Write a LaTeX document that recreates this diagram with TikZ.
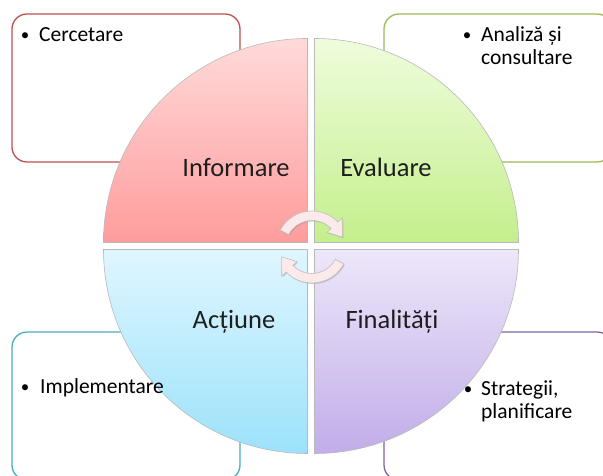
\documentclass[tikz,border=0pt]{standalone}
\usepackage{fontspec}
\setmainfont{Carlito}
\usetikzlibrary{shadows}

% outline colours of the four note panels
\definecolor{edgeRed}{HTML}{C0504D}
\definecolor{edgeGreen}{HTML}{9BBB59}
\definecolor{edgeBlue}{HTML}{4BACC6}
\definecolor{edgePurple}{HTML}{8064A2}
% gradient ends of the four pie quarters
\definecolor{pinkTop}{HTML}{FFDADA}
\definecolor{pinkBot}{HTML}{FF9C9C}
\definecolor{greenTop}{HTML}{EFFCDD}
\definecolor{greenBot}{HTML}{C4EF8C}
\definecolor{blueTop}{HTML}{DFF6FF}
\definecolor{blueBot}{HTML}{9CE2FA}
\definecolor{purpleTop}{HTML}{EDE7FA}
\definecolor{purpleBot}{HTML}{C1ADE8}
\definecolor{cycleFill}{HTML}{FCE9E9}
\definecolor{labelInk}{HTML}{1E1E1E}

\begin{document}
\begin{tikzpicture}[x=1pt,y=1pt,
  panel/.style={draw=#1, line width=1.3pt, fill=white, rounded corners=15pt,
                minimum width=228pt, minimum height=148pt, inner sep=0pt},
  itemtext/.style={font=\fontsize{21.5}{23}\selectfont, anchor=base west,
                   align=left, inner sep=0pt},
  bulletdot/.style={font=\fontsize{17}{20}\selectfont, anchor=base, inner sep=0pt},
  quadtext/.style={font=\fontsize{26.5}{28}\selectfont, text=labelInk,
                   anchor=base, inner sep=0pt},
  slice/.style={draw=gray!55, line width=0.6pt},
  cyclearrow/.style={fill=cycleFill, draw=gray!50, line width=0.6pt,
                     drop shadow={opacity=0.35, shadow xshift=1pt, shadow yshift=-1pt}}
]
\useasboundingbox (0,0) rectangle (603,476);
\clip (0,0) rectangle (603,476);

% note panels behind the pie
\node[panel=edgeRed]    (pTL) at (126,388) {};
\node[panel=edgeGreen]  (pTR) at (498,388) {};
\node[panel=edgeBlue]   (pBL) at (126,70)  {};
\node[panel=edgePurple] (pBR) at (498,70)  {};

% four quarters of the pie, slightly pulled apart
\path[slice, top color=pinkTop, bottom color=pinkBot]
  (307.5,233.5) -- ++(-204,0) arc[start angle=180, end angle=90, radius=204] -- cycle;
\path[slice, top color=greenTop, bottom color=greenBot]
  (314.5,233.5) -- ++(0,204) arc[start angle=90, end angle=0, radius=204] -- cycle;
\path[slice, top color=blueTop, bottom color=blueBot]
  (307.5,226.5) -- ++(0,-204) arc[start angle=270, end angle=180, radius=204] -- cycle;
\path[slice, top color=purpleTop, bottom color=purpleBot]
  (314.5,226.5) -- ++(204,0) arc[start angle=0, end angle=-90, radius=204] -- cycle;

% panel texts, set above the pie (two-line items sit on the baseline of their last line)
\node[bulletdot] (dTL) at (25,435) {•};
\node[itemtext]  (tTL) at (39,434) {Cercetare};
\node[bulletdot] (dTR) at (467,435) {•};
\node[itemtext]  (tTR) at (481,411) {Analiză și\\consultare};
\node[bulletdot] (dBL) at (25,83) {•};
\node[itemtext]  (tBL) at (40,82) {Implementare};
\node[bulletdot] (dBR) at (468,81) {•};
\node[itemtext]  (tBR) at (481,57) {Strategii,\\planificare};

% quarter labels
\node[quadtext] (qInf) at (236,299) {Informare};
\node[quadtext] (qEva) at (386,299) {Evaluare};
\node[quadtext] (qAct) at (234,147) {Acțiune};
\node[quadtext] (qFin) at (392,147) {Finalități};

% the two curved arrows in the middle
\begin{scope}[shift={(312,229)}]
  \path[cyclearrow]
    (152:36) arc[start angle=152, end angle=44, radius=36]
    -- (44:42) -- (18:32) -- (44:21) -- (44:26.5)
    arc[start angle=44, end angle=152, radius=26.5] -- cycle;
  \path[cyclearrow]
    (-28:36) arc[start angle=-28, end angle=-136, radius=36]
    -- (-136:42) -- (-162:32) -- (-136:21) -- (-136:26.5)
    arc[start angle=-136, end angle=-28, radius=26.5] -- cycle;
\end{scope}
\end{tikzpicture}
\end{document}
